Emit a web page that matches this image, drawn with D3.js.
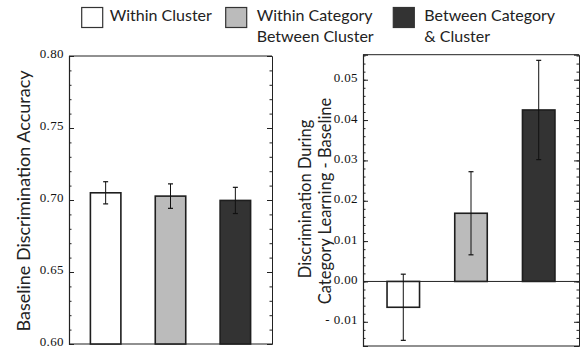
<!DOCTYPE html>
<html><head><meta charset="utf-8">
<script src="https://cdn.jsdelivr.net/npm/d3@7"></script>
<style>
html,body{margin:0;padding:0;background:#fff;}
svg{display:block;}
.lab{font-family:Lato,sans-serif;fill:#222;}
</style></head>
<body>
<svg id="c" width="582" height="349"></svg>
<script>
const categories = ["Within Cluster", "Within Category Between Cluster", "Between Category & Cluster"];
const legendLines = [["Within Cluster"], ["Within Category", "Between Cluster"], ["Between Category", "& Cluster"]];
const fills = ["#ffffff", "#bbbbbb", "#333333"];
const baselineAcc = [0.705, 0.7027, 0.6997];
const baselineSE = [0.0077, 0.0085, 0.0091];
const learningDiff = [-0.0064, 0.0169, 0.0425];
const learningSE = [0.0082, 0.0103, 0.0123];
const leftMajorTicks = [0.60, 0.65, 0.70, 0.75, 0.80];
const rightMajorTicks = [-0.01, 0.00, 0.01, 0.02, 0.03, 0.04, 0.05];

const svg = d3.select("#c");

function panel(cfg) {
  const g = svg.append("g");
  const x = d3.scaleBand().domain(categories).range([cfg.x0, cfg.x1]).paddingInner(cfg.pi).paddingOuter(cfg.po);
  const y = d3.scaleLinear().domain(cfg.domain).range([cfg.yb, cfg.yt]);
  g.append("line").attr("x1", cfg.x0).attr("x2", cfg.x1).attr("y1", cfg.yt).attr("y2", cfg.yt).attr("stroke", "#222").attr("stroke-width", 1);
  g.append("line").attr("x1", cfg.x0).attr("x2", cfg.x1).attr("y1", cfg.yb).attr("y2", cfg.yb).attr("stroke", "#222").attr("stroke-width", 1.2);
  const minor = d3.range(Math.ceil(cfg.domain[0] / cfg.minorStep - 1e-6), Math.floor(cfg.domain[1] / cfg.minorStep + 1e-6) + 1).map(i => i * cfg.minorStep);
  const fmt = d3.format(".2f");
  const axL = g.append("g").attr("transform", `translate(${cfg.x0},0)`)
    .call(d3.axisLeft(y).tickValues(cfg.major).tickSize(-5).tickPadding(5)
      .tickFormat(d => d < -1e-9 ? "- " + fmt(-d) : fmt(Math.abs(d))));
  axL.attr("font-family", null).attr("font-size", null);
  axL.selectAll(".tick text")
    .style("font-family", "'Liberation Serif', serif").style("font-size", "13px")
    .style("letter-spacing", "0.4px").style("fill", "#111").attr("dy", "0.15em");
  axL.select(".domain").attr("stroke", "#222").attr("stroke-width", 1.2);
  axL.selectAll(".tick line").attr("stroke", "#222");
  g.append("g").attr("transform", `translate(${cfg.x0},0)`)
    .call(d3.axisLeft(y).tickValues(minor).tickSize(-2.5).tickFormat(""))
    .call(s => { s.select(".domain").remove(); s.selectAll("line").attr("stroke", "#222"); });
  const axR = g.append("g").attr("transform", `translate(${cfg.x1},0)`)
    .call(d3.axisRight(y).tickValues(cfg.major).tickSize(-5).tickFormat(""));
  axR.select(".domain").attr("stroke", "#222");
  axR.selectAll("line").attr("stroke", "#222");
  g.append("g").attr("transform", `translate(${cfg.x1},0)`)
    .call(d3.axisRight(y).tickValues(minor).tickSize(-2.5).tickFormat(""))
    .call(s => { s.select(".domain").remove(); s.selectAll("line").attr("stroke", "#222"); });
  const base = cfg.base;
  g.selectAll("rect.bar").data(cfg.values).join("rect").attr("class", "bar")
    .attr("x", (d, i) => x(categories[i]))
    .attr("width", x.bandwidth())
    .attr("y", d => Math.min(y(d), y(base)))
    .attr("height", d => Math.abs(y(d) - y(base)))
    .attr("fill", (d, i) => fills[i]).attr("stroke", "#1e1e1e").attr("stroke-width", 1.6);
  if (cfg.zeroLine) {
    g.append("line").attr("x1", cfg.x0).attr("x2", cfg.x1).attr("y1", y(0)).attr("y2", y(0)).attr("stroke", "#222").attr("stroke-width", 1);
  }
  cfg.values.forEach((v, i) => {
    const cx = x(categories[i]) + x.bandwidth() / 2;
    const lo = v - cfg.se[i], hi = v + cfg.se[i];
    g.append("line").attr("x1", cx).attr("x2", cx).attr("y1", y(lo)).attr("y2", y(hi)).attr("stroke", "#111").attr("stroke-width", 1);
    [lo, hi].forEach(e => g.append("line").attr("x1", cx - 2.5).attr("x2", cx + 2.5).attr("y1", y(e)).attr("y2", y(e)).attr("stroke", "#111").attr("stroke-width", 1.2));
  });
  return {x, y};
}

panel({x0: 69, x1: 272, yt: 56, yb: 344, domain: [0.60, 0.80], major: leftMajorTicks, minorStep: 0.01,
  values: baselineAcc, se: baselineSE, base: 0.60, pi: 0.53, po: 0.33});
panel({x0: 363, x1: 579, yt: 54.7, yb: 346, domain: [-0.016, 0.0562], major: rightMajorTicks, minorStep: 0.002,
  values: learningDiff, se: learningSE, base: 0, pi: 0.52, po: 0.355, zeroLine: true});

svg.append("text").attr("class", "lab").attr("transform", "translate(30,201) rotate(-90)")
  .attr("text-anchor", "middle").attr("font-size", 18).text("Baseline Discrimination Accuracy");
svg.append("text").attr("class", "lab").attr("transform", "translate(311,199) rotate(-90)")
  .attr("text-anchor", "middle").attr("font-size", 16.5).text("Discrimination During");
svg.append("text").attr("class", "lab").attr("transform", "translate(331,201) rotate(-90)")
  .attr("text-anchor", "middle").attr("font-size", 16.5).text("Category Learning - Baseline");

const legX = [81.7, 225.7, 393.3];
const leg = svg.append("g");
legendLines.forEach((lines, i) => {
  leg.append("rect").attr("x", legX[i]).attr("y", 7.5).attr("width", 21).attr("height", 20)
    .attr("fill", fills[i]).attr("stroke", "#333").attr("stroke-width", 1.2);
  const t = leg.append("text").attr("class", "lab").attr("font-size", 16);
  lines.forEach((l, k) => t.append("tspan").attr("x", legX[i] + 31 + (i === 0 ? -3 : 0)).attr("y", 21 + k * 21).text(l));
});
</script>
</body></html>
